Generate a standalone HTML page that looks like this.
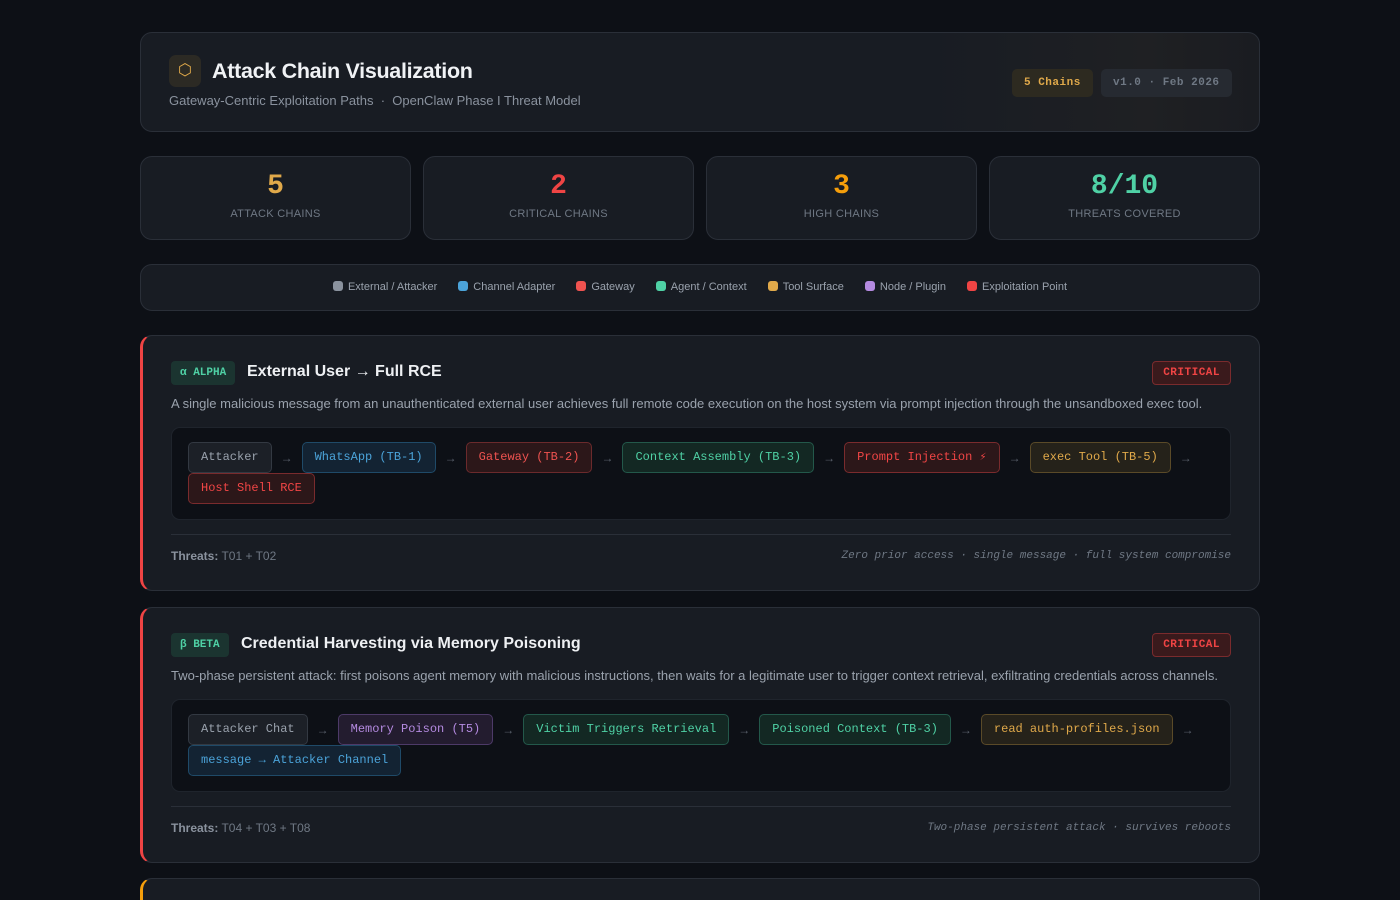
<!DOCTYPE html>
<html><head><meta charset="utf-8"><style>
*{box-sizing:border-box;margin:0;padding:0}
html,body{width:1400px;height:900px;overflow:hidden}
body{background:#0d1016;font-family:"Liberation Sans",sans-serif;color:#e6e8ec;position:relative}
.wrap{position:absolute;left:140px;width:1120px;top:32px}
.card{background:#181c23;border:1px solid #2a2f38;border-radius:12px}
.mono{font-family:"Liberation Mono",monospace}
.hdr{height:100px;position:relative;background:linear-gradient(90deg,#181c23 70%,#1f2023 90%,#1a1c21)}
.icon{position:absolute;left:28px;top:22px;width:32px;height:32px;border-radius:7px;background:#2c2a24;color:#e0a94a;text-align:center;line-height:32px;font-size:16px}
.h1{position:absolute;left:71px;top:26px;font-size:21.5px;font-weight:bold;color:#f0f2f5;letter-spacing:-0.3px}
.sub{position:absolute;left:28px;top:60px;font-size:13px;color:#8a929e}
.pill{position:absolute;top:36px;height:28px;line-height:28px;border-radius:5px;font-size:11px;font-weight:bold;padding:0 12px;letter-spacing:.5px}
.stats{position:absolute;top:124px;left:0;width:1120px;height:84px}
.stat{position:absolute;top:0;width:271px;height:84px;text-align:center}
.stat .n{font-family:"Liberation Mono",monospace;font-weight:bold;font-size:28px;margin-top:14px;line-height:32px}
.stat .l{font-size:11px;color:#6f7884;letter-spacing:.3px;margin-top:5px}
.leg{position:absolute;top:232px;left:0;width:1120px;height:47px;text-align:center;font-size:11px;color:#9aa2ad;line-height:45px}
.leg span{margin:0 9px;white-space:nowrap}
.leg i{display:inline-block;width:10px;height:10px;border-radius:3px;vertical-align:-1px;margin-right:5px}
.chain{position:absolute;left:0;width:1120px;height:256px;border-left:3px solid #ef4444}
.badge{position:absolute;left:28px;top:25px;height:24px;line-height:24px;padding:0 9px;border-radius:4px;background:#1b3430;color:#4fd1a5;font-size:11px;font-weight:bold;font-family:"Liberation Mono",monospace}
.title{position:absolute;top:27px;font-size:16px;font-weight:bold;color:#eef0f3}
.crit{position:absolute;right:28px;top:25px;height:24px;line-height:22px;padding:0 10px;border-radius:4px;background:#3a1a1c;border:1px solid #7a2b2d;color:#ef4444;font-size:11px;font-weight:bold;font-family:"Liberation Mono",monospace;letter-spacing:.5px}
.desc{position:absolute;left:28px;top:60px;font-size:13px;color:#9aa2ad}
.flow{position:absolute;left:28px;top:91px;width:1060px;height:93px;background:#0d1016;border:1px solid #1f242c;border-radius:9px;padding:14px 16px;display:flex;flex-wrap:wrap;row-gap:0;align-content:flex-start}
.nd{height:31px;line-height:29px;padding:0 12px;border-radius:5px;border:1px solid;font-family:"Liberation Mono",monospace;font-size:12px;white-space:nowrap}
.ar{width:30px;height:31px;text-align:center;color:#5b626d;font-size:12px;line-height:33px}
.g{background:#1c2027;border-color:#333942;color:#9aa2ad}
.b{background:#132333;border-color:#1f4a68;color:#4ba3d9}
.r{background:#2c1719;border-color:#6b2a2c;color:#ef5350}
.t{background:#132823;border-color:#23584a;color:#4fd1a5}
.y{background:#25221a;border-color:#5a4a28;color:#e0a94a}
.p{background:#231c2f;border-color:#4d3a68;color:#b48ae0}
.rr{background:#2c1719;border-color:#7a2b2d;color:#f04545}
.div{position:absolute;left:28px;top:198px;width:1060px;border-top:1px solid #2a2f38}
.thr{position:absolute;left:28px;top:213px;font-size:12px;color:#6f7884}
.thr b{color:#8a929e}
.note{position:absolute;right:28px;top:214px;font-size:11px;font-style:italic;color:#6f7884;font-family:"Liberation Mono",monospace}
</style></head><body>
<div class="wrap">
 <div class="card hdr">
  <div class="icon">⬡</div>
  <div class="h1">Attack Chain Visualization</div>
  <div class="sub">Gateway-Centric Exploitation Paths &nbsp;·&nbsp; OpenClaw Phase I Threat Model</div>
  <div class="pill mono" style="left:871px;background:#2d2a20;color:#e0a94a">5 Chains</div>
  <div class="pill mono" style="left:960px;background:#262a31;color:#6f7884">v1.0 · Feb 2026</div>
 </div>
 <div class="stats">
  <div class="card stat" style="left:0"><div class="n" style="color:#e0a94a">5</div><div class="l">ATTACK CHAINS</div></div>
  <div class="card stat" style="left:283px"><div class="n" style="color:#ef4444">2</div><div class="l">CRITICAL CHAINS</div></div>
  <div class="card stat" style="left:566px"><div class="n" style="color:#f59e0b">3</div><div class="l">HIGH CHAINS</div></div>
  <div class="card stat" style="left:849px"><div class="n" style="color:#4fd1a5">8/10</div><div class="l">THREATS COVERED</div></div>
 </div>
 <div class="card leg">
  <span><i style="background:#8a929e"></i>External / Attacker</span>
  <span><i style="background:#4ba3d9"></i>Channel Adapter</span>
  <span><i style="background:#ef5350"></i>Gateway</span>
  <span><i style="background:#4fd1a5"></i>Agent / Context</span>
  <span><i style="background:#e0a94a"></i>Tool Surface</span>
  <span><i style="background:#b48ae0"></i>Node / Plugin</span>
  <span><i style="background:#ef4444"></i>Exploitation Point</span>
 </div>
 <div class="card chain" style="top:303px">
  <div class="badge">α ALPHA</div>
  <div class="title" style="left:104px">External User → Full RCE</div>
  <div class="crit">CRITICAL</div>
  <div class="desc">A single malicious message from an unauthenticated external user achieves full remote code execution on the host system via prompt injection through the unsandboxed exec tool.</div>
  <div class="flow">
   <div class="nd g">Attacker</div><div class="ar">→</div>
   <div class="nd b">WhatsApp (TB-1)</div><div class="ar">→</div>
   <div class="nd r">Gateway (TB-2)</div><div class="ar">→</div>
   <div class="nd t">Context Assembly (TB-3)</div><div class="ar">→</div>
   <div class="nd rr">Prompt Injection <span style="font-family:'DejaVu Sans',sans-serif;font-size:10px">&#x26A1;&#xFE0E;</span></div><div class="ar">→</div>
   <div class="nd y">exec Tool (TB-5)</div><div class="ar">→</div>
   <div class="nd rr">Host Shell RCE</div>
  </div>
  <div class="div"></div>
  <div class="thr"><b>Threats:</b> T01 + T02</div>
  <div class="note">Zero prior access · single message · full system compromise</div>
 </div>
 <div class="card chain" style="top:575px">
  <div class="badge">β BETA</div>
  <div class="title" style="left:98px">Credential Harvesting via Memory Poisoning</div>
  <div class="crit">CRITICAL</div>
  <div class="desc">Two-phase persistent attack: first poisons agent memory with malicious instructions, then waits for a legitimate user to trigger context retrieval, exfiltrating credentials across channels.</div>
  <div class="flow">
   <div class="nd g">Attacker Chat</div><div class="ar">→</div>
   <div class="nd p">Memory Poison (T5)</div><div class="ar">→</div>
   <div class="nd t">Victim Triggers Retrieval</div><div class="ar">→</div>
   <div class="nd t">Poisoned Context (TB-3)</div><div class="ar">→</div>
   <div class="nd y">read auth-profiles.json</div><div class="ar">→</div>
   <div class="nd b">message → Attacker Channel</div>
  </div>
  <div class="div"></div>
  <div class="thr"><b>Threats:</b> T04 + T03 + T08</div>
  <div class="note">Two-phase persistent attack · survives reboots</div>
 </div>
 <div class="card chain" style="top:846px;height:40px;border-left-color:#f59e0b"></div>
</div>
</body></html>
